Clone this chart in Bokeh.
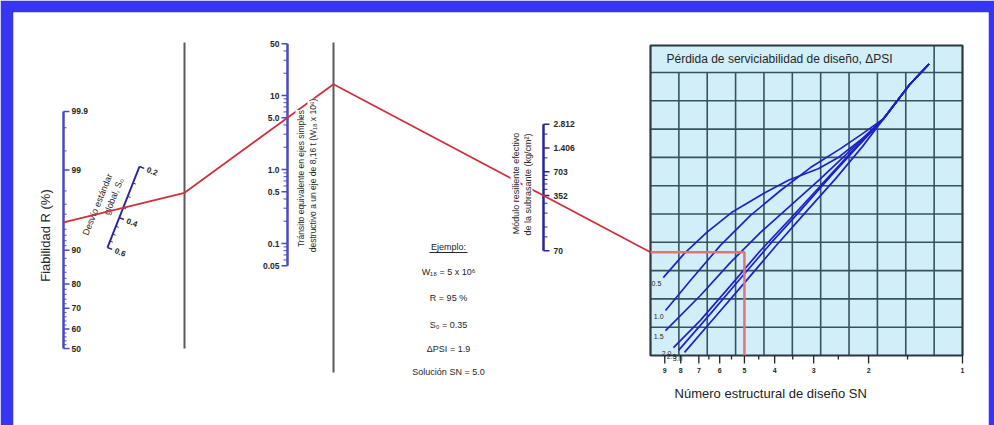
import math
from statistics import NormalDist

from bokeh.core.properties import value
from bokeh.embed import file_html
from bokeh.models import Label, Range1d
from bokeh.plotting import figure
from bokeh.resources import INLINE

# ---------------------------------------------------------------- data
# Reliability scale R (%)
r_major = [99.9, 99, 90, 80, 70, 60, 50]
r_labels = ["99.9", "99", "90", "80", "70", "60", "50"]
r_minor = [99.8, 99.5, 98, 97, 96, 95, 94, 93, 92, 91, 88, 86, 84, 82,
           78, 76, 74, 72, 68, 66, 64, 62, 58, 56, 54, 52]

# Overall standard deviation S0
so_major = [0.2, 0.4, 0.6]
so_labels = ["0.2", "0.4", "0.6"]
so_minor = [0.25, 0.3, 0.35, 0.45, 0.5, 0.55]

# Equivalent single axle loads W18 (millions)
w18_major = [50, 10, 5, 1, 0.5, 0.1, 0.05]
w18_labels = ["50", "10", "5.0", "1.0", "0.5", "0.1", "0.05"]
w18_minor = [40, 30, 20, 9, 8, 7, 6, 4, 3, 2, 0.9, 0.8, 0.7, 0.6, 0.4,
             0.3, 0.2, 0.09, 0.08, 0.07, 0.06]

# Subgrade resilient modulus (ksi on the scale, kg/cm2 printed)
mr_major_ksi = [40, 20, 10, 5, 1]
mr_labels = ["2.812", "1.406", "703", "352", "70"]
mr_minor_ksi = [30, 15, 9, 8, 7, 6, 4, 3, 2, 1.5]
KSI_TO_KGCM2 = 70.307

# Design structural number SN
sn_major = [9, 8, 7, 6, 5, 4, 3, 2, 1]
sn_minor = [6.5, 5.5, 4.5, 3.5, 2.5, 1.5]

# Serviceability-loss curves: SN against chart height (grid rows)
dpsi_labels = ["0.5", "1.0", "1.5", "2.0", "2.5", "3.0"]
curve_sn = [
    [9.1, 7.8, 6.6, 5.5, 4.3, 3.6, 2.9, 2.5, 2.1, 1.79, 1.47, 1.28],
    [8.95, 7.45, 5.97, 4.78, 3.83, 3.07, 2.46, 2.09, 1.79, 1.47, 1.28],
    [8.95, 6.92, 5.54, 4.44, 3.56, 2.85, 2.29, 1.79, 1.47, 1.28],
    [8.44, 6.92, 5.54, 4.44, 3.56, 2.85, 2.29, 1.79, 1.47, 1.28],
    [8.13, 6.42, 5.15, 4.12, 3.31, 2.65, 2.15, 1.79, 1.47, 1.28],
    [7.78, 6.19, 4.96, 3.98, 3.19, 2.55, 2.09, 1.79, 1.47, 1.28],
]
curve_row = [
    [2.75, 3.6, 4.35, 5.05, 5.75, 6.2, 6.6, 7.0, 7.65, 8.37, 9.6, 10.3],
    [1.59, 2.65, 3.89, 4.95, 5.83, 6.64, 7.31, 7.84, 8.37, 9.6, 10.3],
    [0.88, 2.12, 3.29, 4.35, 5.30, 6.25, 7.24, 8.37, 9.6, 10.3],
    [0.28, 1.24, 2.47, 3.71, 4.84, 6.0, 7.14, 8.37, 9.6, 10.3],
    [0.18, 1.48, 2.72, 3.96, 5.12, 6.33, 7.42, 8.37, 9.6, 10.3],
    [0.11, 1.38, 2.61, 3.85, 5.05, 6.25, 7.39, 8.37, 9.6, 10.3],
]

# Worked example
ex_R = 95
ex_So = 0.35
ex_W18 = 5.0
ex_MR_ksi = 5.0
ex_SN = 5.0
example_lines = ["Ejemplo:", "W\u2081\u2088 = 5 x 10\u2076", "R = 95 %",
                 "S\u2080 = 0.35", "\u0394PSI = 1.9", "Soluci\u00f3n SN = 5.0"]

# ---------------------------------------------------------------- layout
FONT_NAME = "Liberation Sans"
FONT = value(FONT_NAME)
AX_BLUE = "#4a4ac4"
DARK_BLUE = "#262699"
GREY = "#5a5a5a"
RED = "#d0303c"
PINK = "#e8707e"
TXT = "#262626"

R_X = 63
TL1_X, TL2_X = 184, 333
W_X, MR_X = 287, 543
CH_L, CH_R, CH_T, CH_B, CH_HEAD = 650, 962, 45, 355, 72
ROW_H = (CH_B - CH_HEAD) / 10
COL_W = (CH_R - CH_L) / 11


def r_y(r):
    return 348 - 76.7 * NormalDist().inv_cdf(r / 100)


SO_BOT, SO_TOP = (107, 247), (139, 166)


def so_pt(s):
    t = (math.log10(0.6) - math.log10(s)) / (math.log10(0.6) - math.log10(0.2))
    return SO_BOT[0] + t * (SO_TOP[0] - SO_BOT[0]), SO_BOT[1] + t * (SO_TOP[1] - SO_BOT[1])


def w_y(w):
    return 169 - 74 * math.log10(w)


def mr_y(ksi):
    return 396.2 - 79 * math.log10(ksi * KSI_TO_KGCM2)


def sn_x(sn):
    return CH_R - 312 * math.log10(sn)


def row_y(u):
    return CH_B - ROW_H * u


def extend(p, q, x):
    return q[1] + (q[1] - p[1]) / (q[0] - p[0]) * (x - q[0])


def vlabel(x, y, txt, size, bg=None):
    return Label(x=x, y=y, text=txt, angle=90, angle_units="deg",
                 text_font=FONT_NAME, text_font_size=size, text_color=TXT,
                 text_align="center", text_baseline="middle",
                 background_fill_color=bg)


# the blue page frame is the figure border; the drawing area maps 1:1 to pixels
BL, BT, BR = 13, 12, 6
p = figure(width=994, height=425, x_range=Range1d(BL, 994 - BR), y_range=Range1d(425, BT),
           output_backend="svg", toolbar_location=None,
           min_border_left=BL, min_border_top=BT, min_border_right=BR, min_border_bottom=0,
           x_axis_location=None, y_axis_location=None,
           background_fill_color="white", border_fill_color="#3535f2",
           outline_line_color=None)
p.xgrid.visible = False
p.ygrid.visible = False

# ---------------------------------------------------------------- reliability
p.segment(x0=[R_X], y0=[r_y(99.9)], x1=[R_X], y1=[r_y(50)], line_color=AX_BLUE, line_width=2.5)
p.segment(x0=[R_X] * len(r_major), y0=[r_y(v) for v in r_major],
          x1=[R_X + 6] * len(r_major), y1=[r_y(v) for v in r_major], line_color=AX_BLUE, line_width=1.5)
p.segment(x0=[R_X] * len(r_minor), y0=[r_y(v) for v in r_minor],
          x1=[R_X + 3] * len(r_minor), y1=[r_y(v) for v in r_minor], line_color=AX_BLUE, line_width=1)
p.text(x=[R_X + 8] * len(r_major), y=[r_y(v) for v in r_major], text=r_labels,
       text_font=FONT, text_font_size="8.5px", text_font_style="bold", text_color=TXT,
       text_baseline="middle")
p.add_layout(vlabel(45, 235, "Fiabilidad R (%)", "13px"))

# ---------------------------------------------------------------- standard deviation
p.segment(x0=[so_pt(0.6)[0]], y0=[so_pt(0.6)[1]], x1=[so_pt(0.2)[0]], y1=[so_pt(0.2)[1]],
          line_color=DARK_BLUE, line_width=2)
ang = math.radians(-22)
dx, dy = math.cos(ang), -math.sin(ang)
for vals, ln, w in [(so_major, 5, 1.5), (so_minor, 3, 1)]:
    pts = [so_pt(v) for v in vals]
    p.segment(x0=[a for a, _ in pts], y0=[b for _, b in pts],
              x1=[a + ln * dx for a, _ in pts], y1=[b + ln * dy for _, b in pts],
              line_color=DARK_BLUE, line_width=w)
lp = [so_pt(v) for v in so_major]
p.text(x=[a + 8 * dx for a, _ in lp], y=[b + 8 * dy for _, b in lp], text=so_labels,
       angle=-22, angle_units="deg", text_font=FONT, text_font_size="8px",
       text_font_style="bold", text_color=TXT, text_baseline="middle")
p.text(x=[97, 113], y=[204, 196], text=["Desv\u00edo est\u00e1ndar", "global, S\u2080"],
       angle=68, angle_units="deg", text_font=FONT, text_font_size="9px",
       text_color=TXT, text_align="center", text_baseline="middle")

# ---------------------------------------------------------------- turning lines
p.segment(x0=[TL1_X, TL2_X], y0=[42, 42], x1=[TL1_X, TL2_X], y1=[348, 372],
          line_color=GREY, line_width=2)

# ---------------------------------------------------------------- W18 scale
p.segment(x0=[W_X], y0=[w_y(50)], x1=[W_X], y1=[w_y(0.05)], line_color=AX_BLUE, line_width=2.5)
p.segment(x0=[W_X - 6] * len(w18_major), y0=[w_y(v) for v in w18_major],
          x1=[W_X] * len(w18_major), y1=[w_y(v) for v in w18_major], line_color=AX_BLUE, line_width=1.5)
p.segment(x0=[W_X - 4] * len(w18_minor), y0=[w_y(v) for v in w18_minor],
          x1=[W_X] * len(w18_minor), y1=[w_y(v) for v in w18_minor], line_color=AX_BLUE, line_width=1)
p.text(x=[W_X - 8] * len(w18_major), y=[w_y(v) for v in w18_major], text=w18_labels,
       text_font=FONT, text_font_size="8.5px", text_font_style="bold", text_color=TXT,
       text_align="right", text_baseline="middle")

# ---------------------------------------------------------------- MR scale
p.segment(x0=[MR_X], y0=[mr_y(40)], x1=[MR_X], y1=[mr_y(1)], line_color=DARK_BLUE, line_width=2.5)
p.segment(x0=[MR_X] * len(mr_major_ksi), y0=[mr_y(v) for v in mr_major_ksi],
          x1=[MR_X + 6] * len(mr_major_ksi), y1=[mr_y(v) for v in mr_major_ksi],
          line_color=DARK_BLUE, line_width=1.5)
p.segment(x0=[MR_X] * len(mr_minor_ksi), y0=[mr_y(v) for v in mr_minor_ksi],
          x1=[MR_X + 4] * len(mr_minor_ksi), y1=[mr_y(v) for v in mr_minor_ksi],
          line_color=DARK_BLUE, line_width=1)
p.text(x=[MR_X + 10] * len(mr_major_ksi), y=[mr_y(v) for v in mr_major_ksi], text=mr_labels,
       text_font=FONT, text_font_size="8.5px", text_font_style="bold", text_color=TXT,
       text_baseline="middle")

# ---------------------------------------------------------------- example path (red)
A = (R_X, r_y(ex_R))
B = so_pt(ex_So)
C = (TL1_X, extend(A, B, TL1_X))
D = (W_X, w_y(ex_W18))
E = (TL2_X, extend(C, D, TL2_X))
F = (MR_X, mr_y(ex_MR_ksi))
G = (CH_L, extend(E, F, CH_L))
H = (sn_x(ex_SN), G[1])
p.line(x=[A[0], C[0], D[0], E[0], G[0]], y=[A[1], C[1], D[1], E[1], G[1]],
       line_color=RED, line_width=1.8)

# axis titles drawn over the path with a white backing
p.add_layout(vlabel(300, 178, "Tr\u00e1nsito equivalente en ejes simples", "8.5px", "white"))
p.add_layout(vlabel(312, 175, "destructivo a un eje de 8,16 t (W\u2081\u2088 x 10\u2076)", "8.5px", "white"))
p.add_layout(vlabel(515, 183, "M\u00f3dulo resiliente efectivo", "9px", "white"))
p.add_layout(vlabel(527, 184, "de la subrasante (kg/cm\u00b2)", "9px", "white"))

# ---------------------------------------------------------------- example box
ex_y = [246, 271, 297, 324, 348, 371]
p.text(x=[448] * len(example_lines), y=ex_y, text=example_lines, text_font=FONT,
       text_font_size="9px", text_color=TXT, text_align="center", text_baseline="middle")
p.segment(x0=[429], y0=[252], x1=[467], y1=[252], line_color=TXT, line_width=1)

# ---------------------------------------------------------------- design chart
p.quad(left=[CH_L], right=[CH_R], top=[CH_T], bottom=[CH_B], fill_color="#d2eff9",
       line_color=None)
vx = [CH_L + COL_W * k for k in range(1, 11)]
p.segment(x0=vx, y0=[CH_HEAD] * 9 + [CH_T], x1=vx, y1=[CH_B] * 10,
          line_color="#34545c", line_width=1.6)
hy = [CH_HEAD + ROW_H * k for k in range(0, 10)]
p.segment(x0=[CH_L] * 10, y0=hy, x1=[CH_R] * 10, y1=hy, line_color="#34545c", line_width=1.6)
p.quad(left=[CH_L], right=[CH_R], top=[CH_T], bottom=[CH_B], fill_color=None,
       line_color="#2a3a40", line_width=2.2)
p.text(x=[666], y=[58], text=["P\u00e9rdida de serviciabilidad de dise\u00f1o,  \u0394PSI"],
       text_font=FONT, text_font_size="12px", text_color=TXT, text_baseline="middle")

for sns, rows in zip(curve_sn, curve_row):
    p.line(x=[sn_x(s) for s in sns], y=[row_y(u) for u in rows], line_color="#2020c8",
           line_width=1.7)
p.text(x=[sn_x(s[0]) - 2 for s in curve_sn], y=[row_y(r[0]) + 6 for r in curve_row],
       text=dpsi_labels, text_font=FONT, text_font_size="7px", text_color=TXT,
       text_align="right", text_baseline="middle")

# example through the chart
p.line(x=[G[0], H[0], H[0]], y=[G[1], H[1], CH_B], line_color=PINK, line_width=2.5)

# SN axis
p.segment(x0=[sn_x(v) for v in sn_major], y0=[CH_B] * len(sn_major),
          x1=[sn_x(v) for v in sn_major], y1=[CH_B + 8] * len(sn_major),
          line_color="#222222", line_width=1.3)
p.segment(x0=[sn_x(v) for v in sn_minor], y0=[CH_B] * len(sn_minor),
          x1=[sn_x(v) for v in sn_minor], y1=[CH_B + 4] * len(sn_minor),
          line_color="#222222", line_width=1.3)
p.text(x=[sn_x(v) for v in sn_major], y=[CH_B + 15] * len(sn_major),
       text=[str(v) for v in sn_major], text_font=FONT, text_font_size="7px",
       text_font_style="bold", text_color=TXT, text_align="center", text_baseline="middle")
p.text(x=[772], y=[393], text=["N\u00famero estructural de dise\u00f1o  SN"], text_font=FONT,
       text_font_size="13px", text_color="#222222", text_align="center",
       text_baseline="middle")

open("out.html", "w").write(file_html(p, INLINE))
